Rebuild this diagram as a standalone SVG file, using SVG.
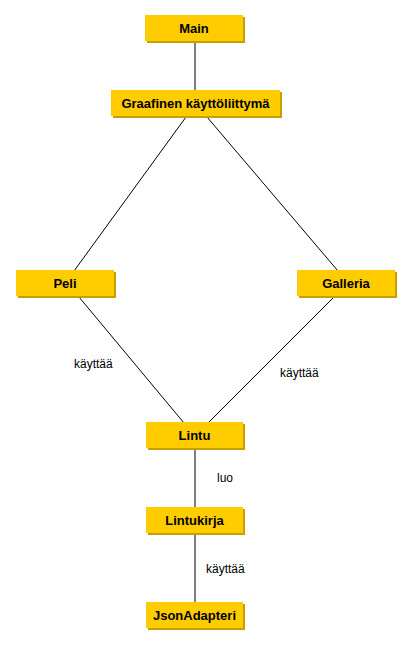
<svg xmlns="http://www.w3.org/2000/svg" width="411" height="645" viewBox="0 0 411 645">
<style>
.sh{fill:#c89f00}
.bx{fill:#ffcc00}
.t{font-family:"Liberation Sans",Arial,sans-serif;font-size:13px;font-weight:bold;fill:#000;text-anchor:middle}
.l{font-family:"Liberation Sans",Arial,sans-serif;font-size:12px;fill:#000}
.c{stroke:#000;stroke-width:1;fill:none}
</style>
<rect width="411" height="645" fill="#fff"/>
<g id="connectors">
<line class="c" x1="195" y1="41" x2="195" y2="91"/>
<line class="c" x1="186" y1="117" x2="74" y2="271"/>
<line class="c" x1="207" y1="117" x2="338" y2="271"/>
<line class="c" x1="79" y1="297" x2="184" y2="423"/>
<line class="c" x1="334" y1="297" x2="208" y2="423"/>
<line class="c" x1="195" y1="448" x2="195" y2="508"/>
<line class="c" x1="195" y1="533" x2="195" y2="603"/>
<text class="l" x="74" y="368">käyttää</text>
<text class="l" x="280" y="377">käyttää</text>
<text class="l" x="217" y="482">luo</text>
<text class="l" x="206" y="573">käyttää</text>
</g>
<g id="main"><rect class="sh" x="147" y="17" width="98" height="26"/><rect class="bx" x="145" y="15" width="98" height="26"/><text class="t" x="194" y="32.5">Main</text></g>
<g id="gui"><rect class="sh" x="113" y="92" width="169" height="26"/><rect class="bx" x="111" y="90" width="169" height="26"/><text class="t" x="195.5" y="107.5">Graafinen käyttöliittymä</text></g>
<g id="peli"><rect class="sh" x="18" y="272" width="98" height="26"/><rect class="bx" x="16" y="270" width="98" height="26"/><text class="t" x="65" y="287.5">Peli</text></g>
<g id="galleria"><rect class="sh" x="299" y="272" width="98" height="26"/><rect class="bx" x="297" y="270" width="98" height="26"/><text class="t" x="346" y="287.5">Galleria</text></g>
<g id="lintu"><rect class="sh" x="148" y="424" width="97" height="26"/><rect class="bx" x="146" y="422" width="97" height="26"/><text class="t" x="194.5" y="439.5">Lintu</text></g>
<g id="lintukirja"><rect class="sh" x="148" y="509" width="97" height="26"/><rect class="bx" x="146" y="507" width="97" height="26"/><text class="t" x="194.5" y="524.5">Lintukirja</text></g>
<g id="jsonadapteri"><rect class="sh" x="148" y="604" width="97" height="26"/><rect class="bx" x="146" y="602" width="97" height="26"/><text class="t" x="194.5" y="619.5">JsonAdapteri</text></g>
</svg>
